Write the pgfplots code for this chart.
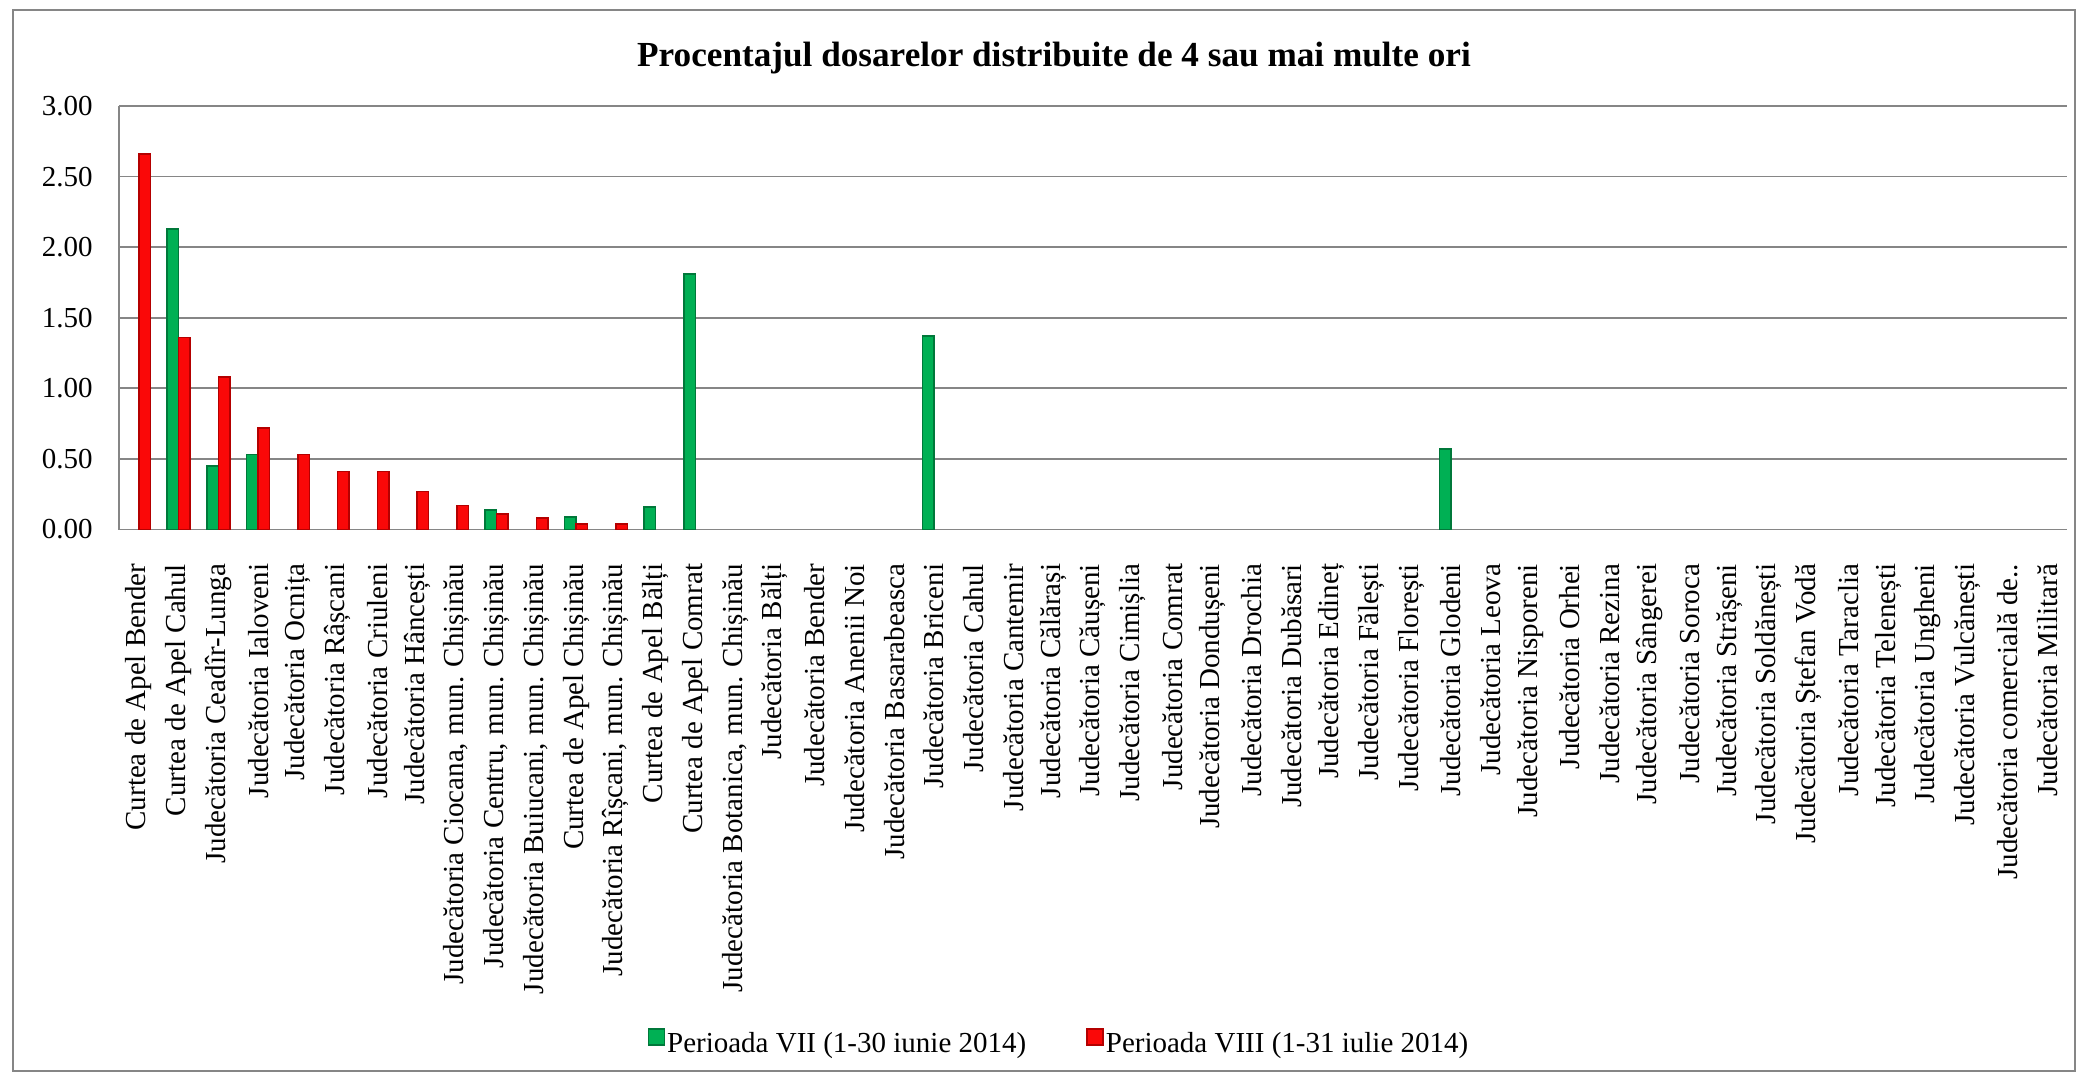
\documentclass[border=0pt]{standalone}
\usepackage{pgfplots}
\pgfplotsset{compat=1.18}
\usepackage{fontspec}
\setmainfont{Liberation Serif}
\definecolor{gmid}{RGB}{0,176,84}
\definecolor{gedge}{RGB}{0,120,58}
\definecolor{rmid}{RGB}{250,8,8}
\definecolor{redge}{RGB}{180,0,0}
\definecolor{gridc}{RGB}{134,134,134}
\begin{document}
\begin{tikzpicture}
\path[use as bounding box] (0,0) rectangle (1042pt,538.5pt);
\draw[gridc, line width=1pt] (6.3pt,3pt) rectangle (1037.5pt,533.5pt);
\node[anchor=base, inner sep=0pt, font=\fontsize{17.6}{20}\selectfont\bfseries] at (527pt,505.2pt) {Procentajul dosarelor distribuite de 4 sau mai multe ori};
\begin{axis}[
  at={(59.5pt,273.75pt)}, anchor=south west,
  scale only axis, width=974pt, height=211.75pt,
  ybar=0pt, bar width=5.75pt,
  xmin=-0.5, xmax=48.5, ymin=0, ymax=3,
  ytick={0,0.5,1,1.5,2,2.5,3},
  yticklabels={0.00,0.50,1.00,1.50,2.00,2.50,3.00},
  xtick={0,...,48},
  xticklabels={Curtea de Apel Bender, Curtea de Apel Cahul, Judecătoria Ceadîr-Lunga, Judecătoria Ialoveni, Judecătoria Ocnița, Judecătoria Râșcani, Judecătoria Criuleni, Judecătoria Hâncești, {Judecătoria Ciocana, mun. Chișinău}, {Judecătoria Centru, mun. Chișinău}, {Judecătoria Buiucani, mun. Chișinău}, Curtea de Apel Chișinău, {Judecătoria Rîșcani, mun. Chișinău}, Curtea de Apel Bălți, Curtea de Apel Comrat, {Judecătoria Botanica, mun. Chișinău}, Judecătoria Bălți, Judecătoria Bender, Judecătoria Anenii Noi, Judecătoria Basarabeasca, Judecătoria Briceni, Judecătoria Cahul, Judecătoria Cantemir, Judecătoria Călărași, Judecătoria Căușeni, Judecătoria Cimișlia, Judecătoria Comrat, Judecătoria Dondușeni, Judecătoria Drochia, Judecătoria Dubăsari, Judecătoria Edineț, Judecătoria Fălești, Judecătoria Florești, Judecătoria Glodeni, Judecătoria Leova, Judecătoria Nisporeni, Judecătoria Orhei, Judecătoria Rezina, Judecătoria Sângerei, Judecătoria Soroca, Judecătoria Strășeni, Judecătoria Soldănești, Judecătoria Ștefan Vodă, Judecătoria Taraclia, Judecătoria Telenești, Judecătoria Ungheni, Judecătoria Vulcănești, Judecătoria comercială de.., Judecătoria Militară},
  xticklabel style={yshift=-12.75pt, rotate=90, anchor=east, inner sep=0pt, font=\fontsize{14.5}{16}\selectfont},
  yticklabel style={font=\fontsize{14.5}{16}\selectfont, inner sep=0pt, xshift=-13pt},
  tick style={draw=none},
  ymajorgrids, grid style={gridc, line width=0.9pt},
  axis lines*=left, axis line style={gridc, line width=0.9pt},
  unbounded coords=discard,
  y filter/.expression={y==0 ? nan : y},
  legend columns=2,
  legend style={at={(0.4825,-1.2125)}, anchor=center, draw=none, font=\fontsize{14.5}{16}\selectfont,
    nodes={inner sep=1pt}, cells={anchor=west},
    /tikz/every even column/.append style={column sep=29pt}},
  legend image code/.code={\draw[#1] (0pt,-0.5pt) rectangle (8pt,7.5pt);},
]
\addplot[fill=gmid, draw=gedge, line width=0.8pt] coordinates {
(0,0) (1,2.13) (2,0.45) (3,0.53) (4,0) (5,0) (6,0) (7,0) (8,0) (9,0.14) (10,0) (11,0.09) (12,0) (13,0.16) (14,1.81) (15,0) (16,0) (17,0) (18,0) (19,0) (20,1.37) (21,0) (22,0) (23,0) (24,0) (25,0) (26,0) (27,0) (28,0) (29,0) (30,0) (31,0) (32,0) (33,0.57) (34,0) (35,0) (36,0) (37,0) (38,0) (39,0) (40,0) (41,0) (42,0) (43,0) (44,0) (45,0) (46,0) (47,0) (48,0)};
\addlegendentry{Perioada VII (1-30 iunie 2014)}
\addplot[fill=rmid, draw=redge, line width=0.8pt] coordinates {
(0,2.66) (1,1.36) (2,1.08) (3,0.72) (4,0.53) (5,0.41) (6,0.41) (7,0.27) (8,0.17) (9,0.11) (10,0.08) (11,0.04) (12,0.04) (13,0) (14,0) (15,0) (16,0) (17,0) (18,0) (19,0) (20,0) (21,0) (22,0) (23,0) (24,0) (25,0) (26,0) (27,0) (28,0) (29,0) (30,0) (31,0) (32,0) (33,0) (34,0) (35,0) (36,0) (37,0) (38,0) (39,0) (40,0) (41,0) (42,0) (43,0) (44,0) (45,0) (46,0) (47,0) (48,0)};
\addlegendentry{Perioada VIII (1-31 iulie 2014)}
\end{axis}
\end{tikzpicture}
\end{document}
